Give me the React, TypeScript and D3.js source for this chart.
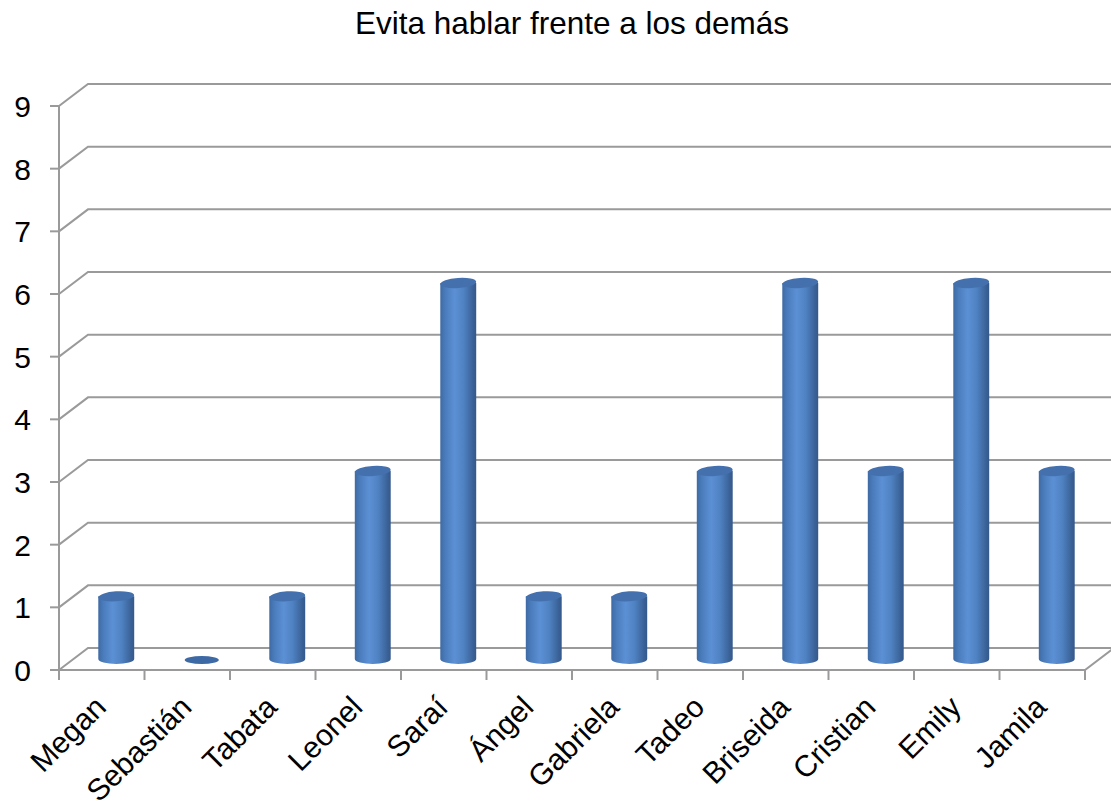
import React from "react";
import * as d3 from "d3";

const title = "Evita hablar frente a los demás";
const categories = ["Megan", "Sebastián", "Tabata", "Leonel", "Saraí", "Ángel", "Gabriela", "Tadeo", "Briseida", "Cristian", "Emily", "Jamila"];
const values = [1, 0, 1, 3, 6, 1, 1, 3, 6, 3, 6, 3];
const yTicks = [0, 1, 2, 3, 4, 5, 6, 7, 8, 9];

const W = 1111;
const H = 810;
const FONT = "'Liberation Sans', Arial, Helvetica, sans-serif";

export default function App() {
  const x = d3.scaleBand<string>().domain(categories).range([59, 1085]).paddingInner(0).paddingOuter(0);
  const y = d3.scaleLinear().domain([0, 9]).range([670, 106]);
  const dx = 29;
  const dy = -22;
  const grid = "#9a9a9a";
  const bw = x.bandwidth();
  const r = bw * 0.21;
  const ry = 5;

  return (
    <svg width={W} height={H} style={{ position: "absolute", left: 0, top: 0, background: "#fff" }}>
      <defs>
        <linearGradient id="cyl" x1="0" x2="1" y1="0" y2="0">
          <stop offset="0" stopColor="#3e6aa4" />
          <stop offset="0.15" stopColor="#4b7dbd" />
          <stop offset="0.4" stopColor="#5c90d5" />
          <stop offset="0.65" stopColor="#4f82c2" />
          <stop offset="0.9" stopColor="#3b6399" />
          <stop offset="1" stopColor="#34588a" />
        </linearGradient>
      </defs>
      <text x={572} y={34} textAnchor="middle" fontFamily={FONT} fontSize={31.5} fill="#000">{title}</text>

      {/* gridlines / back wall */}
      {yTicks.map((t) => (
        <g key={"g" + t}>
          <polyline
            points={`59,${y(t)} ${59 + dx},${y(t) + dy} ${1085 + dx},${y(t) + dy}`}
            fill="none"
            stroke={grid}
            strokeWidth={2}
          />
          <line x1={50} x2={59} y1={y(t)} y2={y(t)} stroke={grid} strokeWidth={2} />
          <text x={31} y={y(t) + 11} textAnchor="end" fontFamily={FONT} fontSize={30} fill="#000">{t}</text>
        </g>
      ))}
      {/* floor */}
      <polyline points={`59,${y(0)} 1085,${y(0)} ${1085 + dx},${y(0) + dy}`} fill="none" stroke={grid} strokeWidth={2} />
      <line x1={59} x2={59} y1={y(9)} y2={y(0)} stroke={grid} strokeWidth={2} />
      {categories.map((c, i) => (
        <line key={"t" + i} x1={x(c)!} x2={x(c)!} y1={y(0)} y2={y(0) + 10} stroke={grid} strokeWidth={2} />
      ))}
      <line x1={1085} x2={1085} y1={y(0)} y2={y(0) + 10} stroke={grid} strokeWidth={2} />

      {/* bars */}
      {categories.map((c, i) => {
        const cx = x(c)! + bw / 2 + dx / 2;
        const yb = y(0) + dy / 2;
        const yt = y(values[i]) + dy / 2;
        if (values[i] === 0) {
          return <ellipse key={"b" + i} cx={cx} cy={yb + 1} rx={r * 0.95} ry={4} fill="#3d69a5" />;
        }
        const body = `M${cx - r},${yt} L${cx - r},${yb} A${r},${ry} 0 0 0 ${cx + r},${yb} L${cx + r},${yt} Z`;
        return (
          <g key={"b" + i}>
            <path d={body} fill="url(#cyl)" />
            <ellipse cx={cx} cy={yt} rx={r} ry={ry} fill="#4471ae" transform={`rotate(-4 ${cx} ${yt})`} />
          </g>
        );
      })}

      {/* category labels */}
      {categories.map((c, i) => {
        const ax = x(c)! + bw / 2 + 6;
        const ay = 709;
        return (
          <text key={"l" + i} x={ax} y={ay} textAnchor="end" fontFamily={FONT} fontSize={30} fill="#000" transform={`rotate(-45 ${ax} ${ay})`}>
            {c}
          </text>
        );
      })}
    </svg>
  );
}
